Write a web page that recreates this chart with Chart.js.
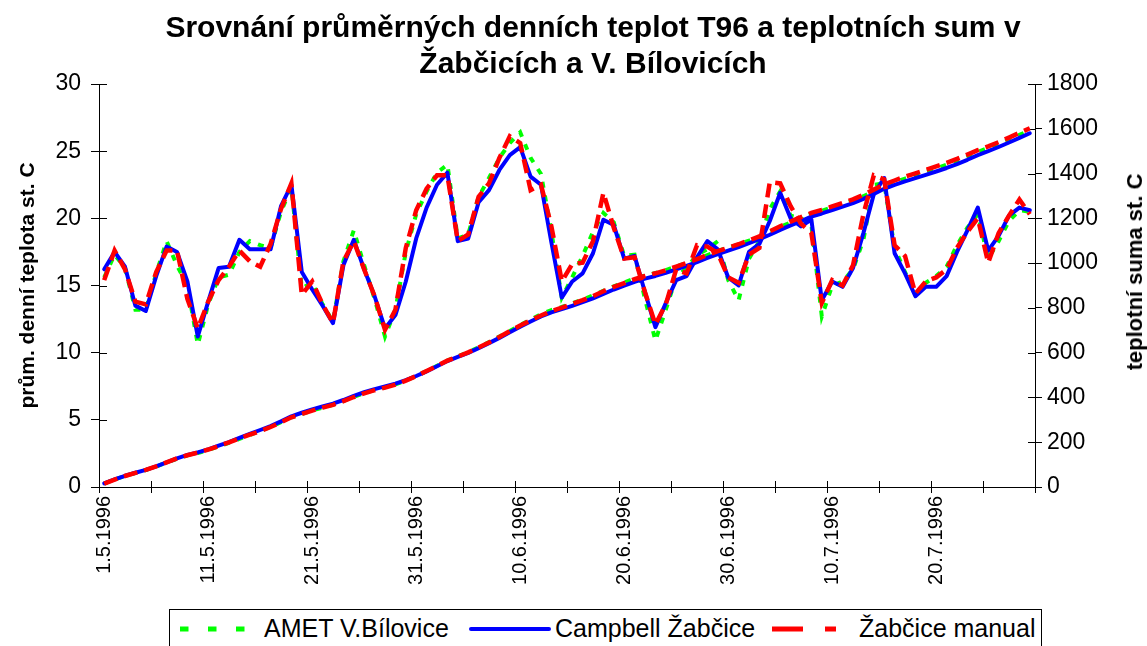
<!DOCTYPE html>
<html><head><meta charset="utf-8">
<script src="https://cdn.jsdelivr.net/npm/chart.js@4.4.1/dist/chart.umd.min.js"></script>
<style>
html,body{margin:0;padding:0;background:#fff;overflow:hidden;}
#wrap{position:relative;width:1147px;height:646px;overflow:hidden;}
#title{position:absolute;left:0;top:9px;width:1186px;text-align:center;font:bold 30px/36px 'Liberation Sans',Arial,sans-serif;color:#000;}
#rtitle{position:absolute;left:1135px;top:272px;transform:translate(-50%,-50%) rotate(-90deg);white-space:nowrap;font:bold 22px 'Liberation Sans',Arial,sans-serif;color:#000;}
#legend{position:absolute;left:169px;top:609px;width:873px;height:40px;box-sizing:border-box;border:1px solid #000;background:#fff;font:25px 'Liberation Sans',Arial,sans-serif;color:#000;white-space:nowrap;}
#legend svg,#legend span{position:absolute;}
#legend svg{top:14px;}
#legend span{top:4px;}
</style></head>
<body>
<div id="wrap">
<canvas id="c" width="1147" height="646"></canvas>
<div id="title">Srovnání průměrných denních teplot T96 a teplotních sum v<br>Žabčicích a V. Bílovicích</div>
<div id="rtitle">teplotní suma st. C</div>
<div id="legend">
  <svg style="left:10px" width="70" height="10"><line x1="0" y1="5" x2="70" y2="5" stroke="#00ff00" stroke-width="5" stroke-dasharray="8.5 19.5"/></svg>
  <span style="left:94px">AMET V.Bílovice</span>
  <svg style="left:299px" width="82" height="10"><line x1="2" y1="5" x2="80" y2="5" stroke="#0000ff" stroke-width="4" stroke-linecap="round"/></svg>
  <span style="left:385px">Campbell Žabčice</span>
  <svg style="left:602px" width="64" height="10"><line x1="0" y1="5" x2="64" y2="5" stroke="#ff0000" stroke-width="5" stroke-dasharray="31 22"/></svg>
  <span style="left:689px">Žabčice manual</span>
</div>
</div>
<script>
const dates = [
 '1.5.1996','2.5.1996','3.5.1996','4.5.1996','5.5.1996','6.5.1996','7.5.1996','8.5.1996','9.5.1996','10.5.1996',
 '11.5.1996','12.5.1996','13.5.1996','14.5.1996','15.5.1996','16.5.1996','17.5.1996','18.5.1996','19.5.1996','20.5.1996',
 '21.5.1996','22.5.1996','23.5.1996','24.5.1996','25.5.1996','26.5.1996','27.5.1996','28.5.1996','29.5.1996','30.5.1996',
 '31.5.1996','1.6.1996','2.6.1996','3.6.1996','4.6.1996','5.6.1996','6.6.1996','7.6.1996','8.6.1996','9.6.1996',
 '10.6.1996','11.6.1996','12.6.1996','13.6.1996','14.6.1996','15.6.1996','16.6.1996','17.6.1996','18.6.1996','19.6.1996',
 '20.6.1996','21.6.1996','22.6.1996','23.6.1996','24.6.1996','25.6.1996','26.6.1996','27.6.1996','28.6.1996','29.6.1996',
 '30.6.1996','1.7.1996','2.7.1996','3.7.1996','4.7.1996','5.7.1996','6.7.1996','7.7.1996','8.7.1996','9.7.1996',
 '10.7.1996','11.7.1996','12.7.1996','13.7.1996','14.7.1996','15.7.1996','16.7.1996','17.7.1996','18.7.1996','19.7.1996',
 '20.7.1996','21.7.1996','22.7.1996','23.7.1996','24.7.1996','25.7.1996','26.7.1996','27.7.1996','28.7.1996','29.7.1996'];
const xTickLabels = ['1.5.1996','11.5.1996','21.5.1996','31.5.1996','10.6.1996','20.6.1996','30.6.1996','10.7.1996','20.7.1996'];

// daily mean temperatures T96 [°C]
const ametBilovice = [15.6,17.3,16.3,13.2,13.2,15.9,18.3,16.5,15.0,10.6, 13.6,15.6,15.8,17.5,18.3,18.0,17.8,20.5,22.3,14.8,
 15.2,13.6,12.3,16.8,19.1,16.5,14.0,11.2,13.2,17.5, 20.3,22.0,23.4,24.0,18.5,18.8,21.6,23.0,24.5,25.6,
 26.4,24.5,23.3,19.0,14.1,15.6,17.2,19.0,20.4,19.7, 17.2,17.3,14.0,10.9,13.2,15.6,16.3,17.3,17.7,18.3,
 15.4,13.9,17.0,18.3,20.7,22.0,20.2,20.0,19.5,12.7, 15.0,15.3,16.2,18.4,22.5,22.6,17.8,16.0,14.3,15.2,
 15.7,16.4,18.0,19.3,20.3,17.0,18.3,19.8,20.6,20.5];
const campbellZabcice = [16.2,17.5,16.4,13.5,13.1,15.7,17.9,17.5,15.3,11.2, 13.8,16.3,16.4,18.4,17.7,17.7,17.7,20.9,22.5,16.0,
 14.7,13.5,12.2,16.5,18.4,16.2,14.2,11.8,12.8,15.3, 18.5,20.8,22.5,23.4,18.3,18.5,21.2,22.1,23.6,24.7,
 25.3,23.1,22.5,18.2,14.1,15.3,15.9,17.4,19.9,19.5, 17.0,17.2,14.5,11.9,13.7,15.4,15.7,17.1,18.3,17.7,
 15.6,15.0,17.5,18.1,19.8,21.9,20.0,19.4,19.9,13.9, 15.3,14.9,16.3,18.9,21.8,23.0,17.4,15.9,14.2,14.9,
 14.9,15.7,17.5,19.1,20.8,17.6,18.7,20.2,20.8,20.6];
const zabciceManual = [15.4,17.6,16.2,13.8,13.6,16.0,17.6,17.6,14.0,11.8, 13.8,15.4,16.4,17.6,16.8,16.4,18.1,20.7,22.6,14.3,
 15.3,13.6,12.2,16.8,18.3,16.2,14.2,11.7,13.2,17.8, 20.6,22.2,23.2,23.2,18.3,18.8,21.6,22.6,24.5,26.1,
 25.6,22.1,22.5,19.4,15.3,16.6,16.7,18.3,21.9,19.3, 17.0,17.1,14.5,12.1,13.6,16.2,15.9,18.0,17.9,17.4,
 15.6,15.2,17.3,17.8,22.7,22.6,20.9,19.6,18.9,13.7, 15.4,15.0,16.5,20.3,23.2,22.9,18.0,17.2,14.4,15.3,
 15.6,16.2,17.8,19.0,20.0,16.7,18.9,20.2,21.4,20.3];

// temperature sums = running total of the daily means
function runningSum(arr){ let s = 0; return arr.map(v => Math.round((s += v) * 10) / 10); }
const ametSum = runningSum(ametBilovice);
const campbellSum = runningSum(campbellZabcice);
const manualSum = runningSum(zabciceManual);

const seriesNames = ['AMET V.Bílovice','Campbell Žabčice','Žabčice manual'];
const GREEN = '#00ff00', BLUE = '#0000ff', RED = '#ff0000';
const FONT = "'Liberation Sans', Arial, sans-serif";
Chart.defaults.font.family = FONT;
Chart.defaults.color = '#000';

function ds(label, data, axis, color, dash, order, width){
  return { label, data, yAxisID: axis, borderColor: color, backgroundColor: color, borderWidth: width,
    borderDash: dash, pointRadius: 0, pointHoverRadius: 0, tension: 0, fill: false, order,
    borderJoinStyle: dash.length ? 'miter' : 'round', borderCapStyle: dash.length ? 'butt' : 'round' };
}

const crossTicks = {
  id: 'crossTicks',
  beforeDatasetsDraw(chart){
    const {ctx, scales:{x, y, y1}} = chart;
    ctx.save();
    ctx.strokeStyle = '#000'; ctx.lineWidth = 1;
    ctx.beginPath();
    y.ticks.forEach(t => { const p = Math.round(y.getPixelForValue(t.value)) + 0.5; ctx.moveTo(y.right, p); ctx.lineTo(y.right + 8, p); });
    y1.ticks.forEach(t => { const p = Math.round(y1.getPixelForValue(t.value)) + 0.5; ctx.moveTo(y1.left - 7, p); ctx.lineTo(y1.left, p); });
    for (let i = 0; i <= dates.length; i += 5) {
      const p = Math.round(x.getPixelForValue(i - 0.5)) + 0.5;
      ctx.moveTo(p, x.top); ctx.lineTo(p, x.top - 6);
    }
    ctx.stroke();
    ctx.restore();
  }
};

new Chart(document.getElementById('c'), {
  type: 'line',
  data: {
    labels: dates,
    datasets: [
      ds(seriesNames[0], ametBilovice, 'y', GREEN, [6, 8], 3, 4),
      ds(seriesNames[1], campbellZabcice, 'y', BLUE, [], 2, 4),
      ds(seriesNames[2], zabciceManual, 'y', RED, [14, 7], 1, 4.5),
      ds(seriesNames[0], ametSum, 'y1', GREEN, [6, 8], 3, 4),
      ds(seriesNames[1], campbellSum, 'y1', BLUE, [], 2, 4),
      ds(seriesNames[2], manualSum, 'y1', RED, [14, 7], 1, 4.5)
    ]
  },
  options: {
    responsive: false, animation: false, devicePixelRatio: 1,
    layout: { padding: { left: 0, right: 0, top: 84, bottom: 0 } },
    plugins: { legend: { display: false }, title: { display: false }, tooltip: { enabled: false } },
    scales: {
      x: {
        type: 'category', offset: true,
        grid: { display: true, drawOnChartArea: false, drawTicks: true, tickLength: 6, offset: true, lineWidth: 1,
          color: c => (c.index === undefined || c.index % 5 === 0) ? '#000' : 'rgba(0,0,0,0)' },
        border: { display: true, color: '#000', width: 1 },
        ticks: { autoSkip: false, maxRotation: 90, minRotation: 90, padding: 3, color: '#000',
          font: { size: 20, family: FONT },
          callback: (v, i) => xTickLabels.includes(dates[i]) ? dates[i] : '' },
        afterFit: s => { s.height = 159; }
      },
      y: {
        position: 'left', min: 0, max: 30,
        ticks: { stepSize: 5, padding: 10, color: '#000', font: { size: 23, family: FONT }, callback: v => String(v) },
        grid: { drawOnChartArea: false, drawTicks: true, tickLength: 8, color: '#000' },
        border: { display: true, color: '#000', width: 1 },
        title: { display: true, text: 'prům. denní teplota st. C', color: '#000',
          font: { size: 21, weight: 'bold', family: FONT }, padding: { top: 16, bottom: 0 } },
        afterFit: s => { s.width = 99; }
      },
      y1: {
        position: 'right', min: 0, max: 1800,
        ticks: { stepSize: 200, padding: 5, color: '#000', font: { size: 23, family: FONT }, callback: v => String(v) },
        grid: { drawOnChartArea: false, drawTicks: true, tickLength: 7, color: '#000' },
        border: { display: true, color: '#000', width: 1 },
        afterFit: s => { s.width = 112; }
      }
    }
  },
  plugins: [crossTicks]
});
</script>
</body></html>
